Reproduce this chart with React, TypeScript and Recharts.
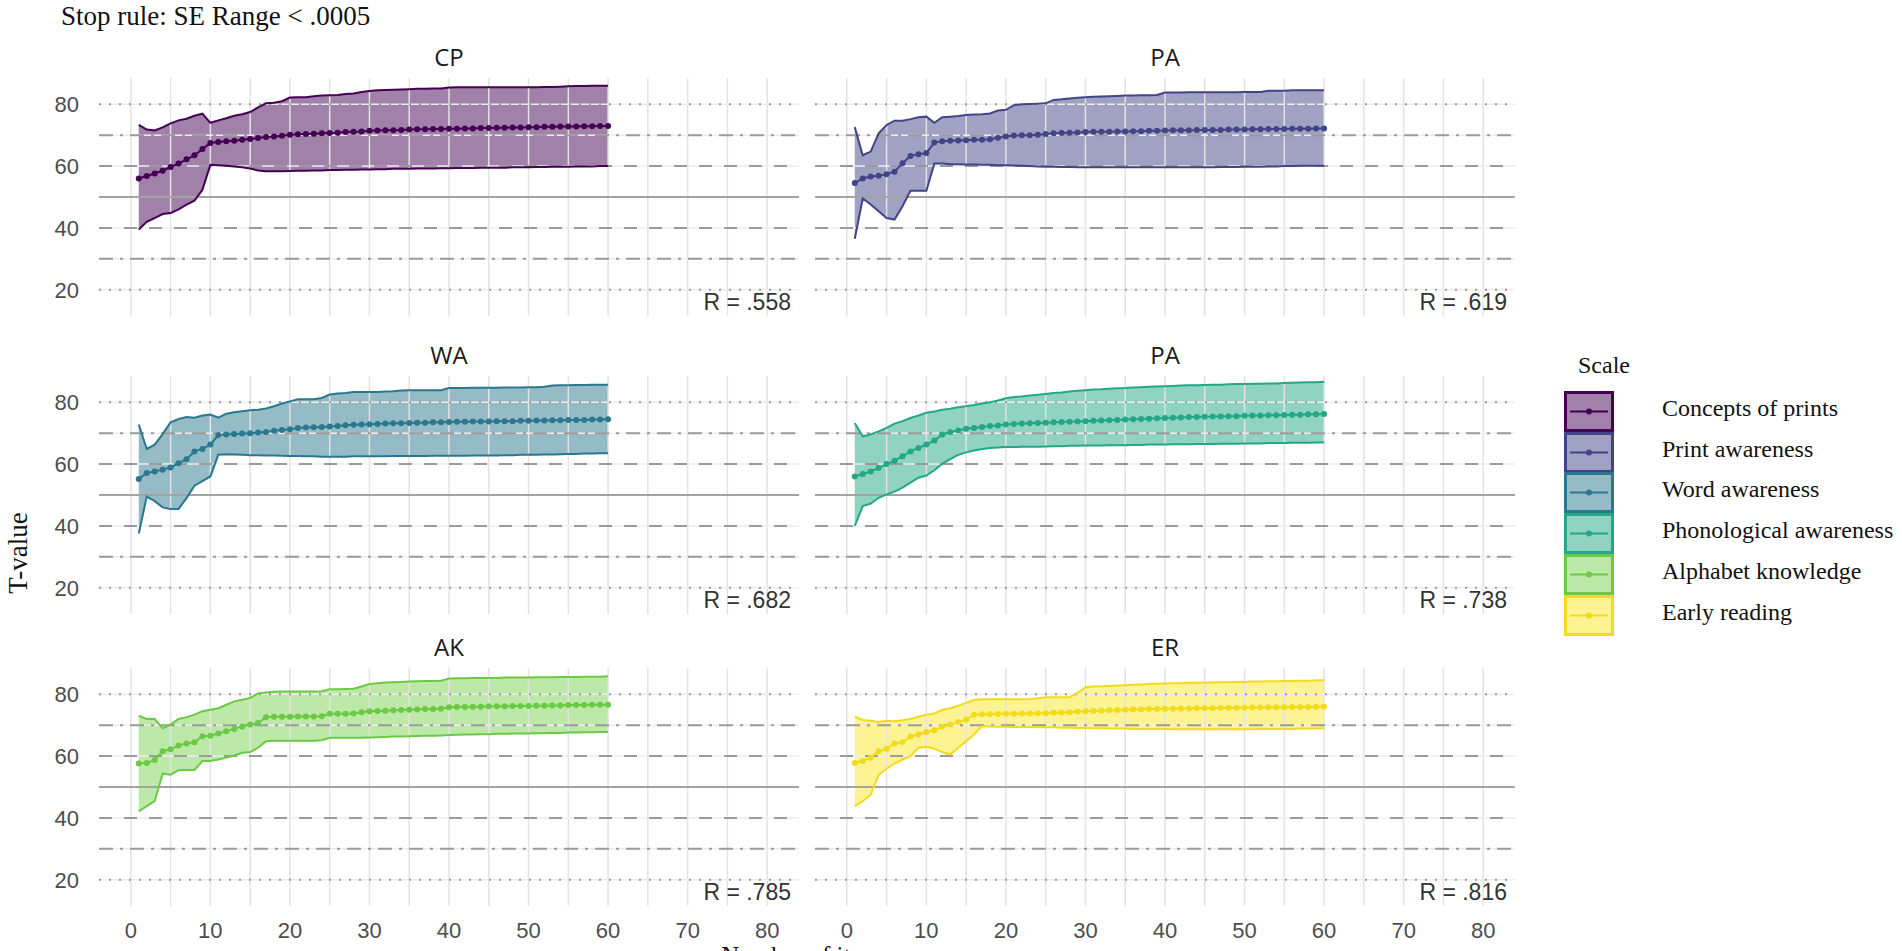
import * as React from 'react';
import {
  ComposedChart,
  Area,
  Line,
  XAxis,
  YAxis,
  ReferenceLine,
} from 'recharts';

// item number (x)
const items = [
  1, 2, 3, 4, 5, 6, 7, 8, 9, 10, 11, 12, 13, 14, 15, 16, 17, 18, 19, 20,
  21, 22, 23, 24, 25, 26, 27, 28, 29, 30, 31, 32, 33, 34, 35, 36, 37, 38, 39, 40,
  41, 42, 43, 44, 45, 46, 47, 48, 49, 50, 51, 52, 53, 54, 55, 56, 57, 58, 59, 60,
];

const xTicks = [0, 10, 20, 30, 40, 50, 60, 70, 80];
const xGrid = [0, 5, 10, 15, 20, 25, 30, 35, 40, 45, 50, 55, 60, 65, 70, 75, 80];
const yTicks = [20, 40, 60, 80];

// Concepts of prints
const cpUpper = [
  73.3, 71.8, 71.5, 72.5, 73.8, 74.8, 75.3, 76.3, 77.0, 74.0,
  74.8, 75.5, 76.3, 76.8, 77.5, 79.0, 80.3, 80.5, 81.0, 82.2,
  82.3, 82.3, 82.6, 82.8, 82.9, 83.0, 83.3, 83.5, 84.0, 84.3,
  84.5, 84.6, 84.7, 84.8, 84.9, 85.0, 85.0, 85.1, 85.1, 85.4,
  85.5, 85.5, 85.5, 85.5, 85.5, 85.5, 85.5, 85.5, 85.5, 85.5,
  85.5, 85.6, 85.6, 85.7, 85.8, 85.9, 85.9, 86.0, 86.0, 86.0,
];
const cpMean = [
  56.0, 56.8, 57.6, 58.5, 59.7, 60.8, 62.2, 63.5, 65.5, 67.5,
  67.8, 68.0, 68.2, 68.5, 68.8, 69.1, 69.4, 69.6, 69.8, 70.1,
  70.3, 70.4, 70.5, 70.6, 70.7, 70.8, 71.0, 71.1, 71.2, 71.4,
  71.5, 71.6, 71.6, 71.7, 71.8, 71.9, 71.9, 72.0, 72.0, 72.1,
  72.1, 72.2, 72.2, 72.3, 72.3, 72.4, 72.4, 72.5, 72.5, 72.6,
  72.6, 72.7, 72.7, 72.8, 72.8, 72.8, 72.9, 72.9, 73.0, 73.0,
];
const cpLower = [
  39.5, 42.0, 43.2, 44.5, 44.8, 46.0, 47.5, 48.8, 52.3, 60.4,
  60.3, 60.1, 59.9, 59.6, 59.2, 58.6, 58.3, 58.3, 58.3, 58.4,
  58.5, 58.5, 58.6, 58.6, 58.7, 58.7, 58.8, 58.8, 58.9, 58.9,
  59.0, 59.0, 59.1, 59.1, 59.1, 59.2, 59.2, 59.2, 59.3, 59.3,
  59.4, 59.4, 59.4, 59.5, 59.5, 59.5, 59.5, 59.6, 59.6, 59.6,
  59.7, 59.7, 59.8, 59.8, 59.8, 59.9, 59.9, 59.9, 60.0, 60.0,
];

// Print awareness
const paUpper = [
  72.6, 63.5, 64.7, 70.6, 73.3, 74.7, 74.7, 75.2, 75.8, 76.0,
  74.0, 75.8, 76.0, 76.2, 76.5, 76.7, 76.8, 77.0, 78.0, 78.2,
  79.7, 80.0, 80.1, 80.2, 80.3, 81.4, 81.6, 81.9, 82.1, 82.3,
  82.4, 82.5, 82.6, 82.7, 82.8, 82.8, 82.9, 82.9, 83.0, 83.8,
  83.8, 83.8, 83.9, 83.9, 83.9, 83.9, 83.9, 83.9, 83.9, 84.0,
  84.0, 84.0, 84.4, 84.4, 84.4, 84.5, 84.5, 84.5, 84.5, 84.5,
];
const paMean = [
  54.5, 56.0, 56.6, 56.9, 57.4, 58.2, 60.9, 63.3, 63.8, 64.2,
  67.6, 68.0, 68.2, 68.3, 68.4, 68.5, 68.5, 68.7, 69.2, 69.6,
  69.9, 70.0, 70.0, 70.1, 70.4, 70.6, 70.7, 70.8, 70.9, 71.0,
  71.1, 71.1, 71.1, 71.2, 71.2, 71.3, 71.3, 71.4, 71.4, 71.5,
  71.6, 71.6, 71.6, 71.7, 71.7, 71.7, 71.7, 71.8, 71.8, 71.8,
  71.9, 71.9, 72.0, 72.0, 72.0, 72.1, 72.1, 72.1, 72.2, 72.2,
];
const paLower = [
  36.5, 49.5, 47.6, 45.4, 43.2, 42.7, 47.0, 52.0, 52.0, 52.0,
  60.8, 60.8, 60.6, 60.6, 60.5, 60.5, 60.4, 60.4, 60.3, 60.3,
  60.2, 60.1, 60.0, 59.9, 59.8, 59.8, 59.7, 59.7, 59.6, 59.6,
  59.6, 59.6, 59.6, 59.6, 59.6, 59.6, 59.6, 59.6, 59.6, 59.6,
  59.6, 59.6, 59.6, 59.6, 59.6, 59.6, 59.7, 59.7, 59.7, 59.8,
  59.8, 59.8, 59.9, 59.9, 60.0, 60.0, 60.1, 60.1, 60.1, 60.1,
];

// Word awareness
const waUpper = [
  72.8, 64.9, 66.3, 69.7, 73.5, 74.6, 75.2, 75.0, 75.7, 76.0,
  75.0, 76.3, 76.8, 77.1, 77.4, 77.6, 78.0, 78.7, 79.6, 80.3,
  81.0, 81.0, 81.0, 81.4, 82.5, 82.8, 83.0, 83.3, 83.3, 83.3,
  83.3, 83.5, 83.6, 83.8, 83.9, 83.9, 83.9, 83.9, 83.9, 84.6,
  84.6, 84.6, 84.7, 84.7, 84.7, 84.7, 84.8, 84.8, 84.8, 84.9,
  84.9, 85.0, 85.4, 85.5, 85.5, 85.6, 85.6, 85.7, 85.7, 85.7,
];
const waMean = [
  55.2, 57.1, 57.6, 58.2, 58.9, 60.3, 61.6, 64.1, 64.9, 66.3,
  69.4, 69.6, 69.7, 69.9, 70.0, 70.2, 70.4, 70.8, 71.0, 71.3,
  71.7, 71.8, 71.9, 72.0, 72.2, 72.3, 72.6, 72.7, 72.8, 72.9,
  73.0, 73.1, 73.2, 73.2, 73.3, 73.4, 73.4, 73.5, 73.5, 73.6,
  73.7, 73.7, 73.8, 73.8, 73.8, 73.9, 73.9, 73.9, 74.0, 74.0,
  74.1, 74.1, 74.2, 74.2, 74.3, 74.3, 74.3, 74.4, 74.4, 74.5,
];
const waLower = [
  37.5, 49.5, 48.0, 46.0, 45.5, 45.5, 49.0, 53.0, 54.5, 56.0,
  63.0, 63.2, 63.1, 63.0, 62.9, 62.9, 62.8, 62.8, 62.7, 62.6,
  62.6, 62.5, 62.5, 62.4, 62.4, 62.4, 62.4, 62.5, 62.5, 62.5,
  62.5, 62.5, 62.6, 62.6, 62.6, 62.6, 62.6, 62.7, 62.7, 62.7,
  62.7, 62.7, 62.8, 62.8, 62.8, 62.8, 62.9, 62.9, 63.0, 63.0,
  63.0, 63.1, 63.1, 63.2, 63.3, 63.3, 63.4, 63.4, 63.5, 63.5,
];

// Phonological awareness
const phUpper = [
  73.3, 69.0, 69.6, 70.6, 71.7, 73.1, 73.9, 74.9, 75.7, 76.6,
  77.0, 77.6, 77.9, 78.4, 78.7, 79.1, 79.6, 80.0, 80.6, 81.3,
  81.7, 81.9, 82.2, 82.4, 82.7, 83.0, 83.2, 83.5, 83.7, 83.9,
  84.1, 84.2, 84.4, 84.5, 84.6, 84.8, 84.9, 85.0, 85.1, 85.2,
  85.3, 85.4, 85.5, 85.5, 85.6, 85.7, 85.7, 85.8, 85.9, 85.9,
  86.0, 86.0, 86.1, 86.1, 86.2, 86.3, 86.4, 86.5, 86.5, 86.6,
];
const phMean = [
  56.0, 56.8, 57.6, 58.7, 60.0, 61.1, 62.5, 64.1, 65.2, 66.3,
  67.6, 69.6, 70.4, 70.9, 71.4, 71.7, 72.0, 72.3, 72.5, 72.8,
  73.0, 73.1, 73.2, 73.3, 73.4, 73.5, 73.6, 73.7, 73.8, 73.9,
  74.0, 74.1, 74.2, 74.3, 74.4, 74.5, 74.6, 74.7, 74.8, 74.9,
  75.0, 75.1, 75.2, 75.2, 75.3, 75.4, 75.4, 75.5, 75.5, 75.6,
  75.7, 75.7, 75.8, 75.8, 75.9, 76.0, 76.0, 76.1, 76.1, 76.2,
];
const phLower = [
  40.0, 46.4, 47.2, 49.1, 50.2, 51.1, 52.4, 54.0, 55.6, 56.3,
  58.0, 60.1, 61.6, 63.0, 63.8, 64.4, 64.9, 65.2, 65.4, 65.5,
  65.5, 65.6, 65.6, 65.6, 65.7, 65.8, 65.8, 65.9, 65.9, 66.0,
  66.0, 66.0, 66.1, 66.1, 66.1, 66.2, 66.2, 66.3, 66.3, 66.3,
  66.4, 66.4, 66.4, 66.5, 66.5, 66.5, 66.6, 66.6, 66.6, 66.7,
  66.7, 66.7, 66.8, 66.8, 66.8, 66.9, 66.9, 66.9, 67.0, 67.0,
];

// Alphabet knowledge
const akUpper = [
  73.0, 72.0, 72.0, 69.0, 70.2, 72.0, 72.6, 73.4, 74.5, 75.0,
  75.5, 76.6, 77.7, 78.2, 78.8, 80.3, 80.6, 80.8, 80.9, 80.9,
  80.9, 80.9, 80.9, 81.0, 81.6, 81.6, 81.7, 81.8, 82.5, 83.3,
  83.6, 83.8, 83.9, 84.0, 84.1, 84.2, 84.3, 84.3, 84.4, 85.1,
  85.2, 85.2, 85.3, 85.3, 85.3, 85.3, 85.4, 85.4, 85.4, 85.4,
  85.5, 85.5, 85.5, 85.6, 85.6, 85.6, 85.7, 85.7, 85.7, 85.8,
];
const akMean = [
  57.6, 57.8, 58.7, 61.6, 62.2, 63.4, 64.1, 64.5, 66.4, 66.6,
  67.3, 68.0, 68.8, 69.6, 70.2, 70.7, 72.6, 72.7, 72.7, 72.7,
  72.8, 72.8, 72.8, 72.9, 73.7, 73.7, 73.7, 73.8, 74.2, 74.5,
  74.6, 74.7, 74.8, 74.9, 75.0, 75.1, 75.2, 75.2, 75.3, 75.8,
  75.9, 75.9, 76.0, 76.0, 76.1, 76.1, 76.1, 76.2, 76.2, 76.2,
  76.3, 76.3, 76.4, 76.4, 76.5, 76.5, 76.5, 76.6, 76.6, 76.6,
];
const akLower = [
  42.1, 43.8, 45.4, 54.3, 54.0, 55.4, 55.5, 55.5, 58.4, 58.4,
  58.9, 59.5, 60.2, 61.1, 61.3, 62.7, 64.8, 65.0, 65.0, 65.0,
  65.0, 65.0, 65.0, 65.1, 65.9, 65.9, 65.9, 65.9, 65.9, 66.0,
  66.1, 66.2, 66.3, 66.3, 66.4, 66.5, 66.6, 66.6, 66.7, 66.8,
  66.9, 67.0, 67.0, 67.1, 67.1, 67.2, 67.2, 67.3, 67.3, 67.3,
  67.4, 67.4, 67.5, 67.5, 67.6, 67.6, 67.7, 67.7, 67.8, 67.8,
];

// Early reading
const erUpper = [
  72.8, 71.7, 71.4, 71.0, 71.4, 71.3, 71.6, 72.0, 72.7, 73.4,
  73.8, 75.0, 75.5, 76.3, 77.2, 78.2, 78.4, 78.4, 78.4, 78.4,
  78.4, 78.4, 78.4, 78.7, 79.0, 79.0, 79.0, 79.0, 80.5, 82.3,
  82.5, 82.6, 82.7, 82.8, 82.9, 83.1, 83.2, 83.3, 83.4, 83.5,
  83.6, 83.6, 83.7, 83.7, 83.8, 83.8, 83.9, 83.9, 84.0, 84.0,
  84.1, 84.1, 84.2, 84.2, 84.3, 84.3, 84.4, 84.4, 84.5, 84.5,
];
const erMean = [
  57.8, 58.4, 59.5, 61.6, 62.4, 64.1, 64.5, 66.3, 67.0, 67.8,
  68.4, 69.5, 70.2, 71.0, 71.8, 73.4, 73.5, 73.6, 73.6, 73.7,
  73.7, 73.8, 73.8, 73.9, 73.9, 74.0, 74.1, 74.2, 74.4, 74.5,
  74.6, 74.7, 74.8, 74.9, 75.0, 75.1, 75.1, 75.2, 75.2, 75.3,
  75.3, 75.4, 75.4, 75.5, 75.5, 75.5, 75.6, 75.6, 75.6, 75.7,
  75.7, 75.7, 75.8, 75.8, 75.8, 75.9, 75.9, 75.9, 76.0, 76.0,
];
const erLower = [
  43.8, 45.4, 47.5, 54.0, 55.9, 57.6, 58.9, 60.0, 62.7, 63.0,
  62.4, 61.3, 60.5, 62.7, 64.8, 67.0, 69.7, 69.6, 69.5, 69.5,
  69.4, 69.4, 69.4, 69.3, 69.3, 69.3, 69.2, 69.2, 69.1, 69.1,
  69.0, 69.0, 68.9, 68.9, 68.9, 68.8, 68.8, 68.8, 68.8, 68.8,
  68.7, 68.7, 68.7, 68.7, 68.7, 68.7, 68.7, 68.7, 68.7, 68.7,
  68.7, 68.8, 68.8, 68.8, 68.8, 68.8, 68.9, 68.9, 68.9, 69.0,
];

const panelTitles = ['CP', 'PA', 'WA', 'PA', 'AK', 'ER'];
const scaleNames = [
  'Concepts of prints',
  'Print awareness',
  'Word awareness',
  'Phonological awareness',
  'Alphabet knowledge',
  'Early reading',
];
const rLabels = ['R = .558', 'R = .619', 'R = .682', 'R = .738', 'R = .785', 'R = .816'];

const colors = ['#440154', '#414487', '#2a788e', '#22a884', '#7ad151', '#fde725'];
const edgeColors = ['#440154', '#414487', '#2a788e', '#22a884', '#6cc943', '#f0dc1c'];

const series = [
  { lower: cpLower, mean: cpMean, upper: cpUpper },
  { lower: paLower, mean: paMean, upper: paUpper },
  { lower: waLower, mean: waMean, upper: waUpper },
  { lower: phLower, mean: phMean, upper: phUpper },
  { lower: akLower, mean: akMean, upper: akUpper },
  { lower: erLower, mean: erMean, upper: erUpper },
];

// layout (pixels)
const PANEL_W = 700;
const PANEL_H = 238;
const colLeft = [99, 815];
const rowTop = [78, 376, 668];
const Y_AXIS_W = 60;
const X_AXIS_H = 50;

const SANS = '"Liberation Sans", Arial, sans-serif';
const SERIF = '"Liberation Serif", "Times New Roman", serif';
const TICK = { fill: '#4d4d4d', fontSize: 22, fontFamily: SANS };

const refStyles = [
  { y: 80, dash: '2 8' },
  { y: 70, dash: '14 7 3 7' },
  { y: 60, dash: '13 12' },
  { y: 40, dash: '13 12' },
  { y: 30, dash: '14 7 3 7' },
  { y: 20, dash: '2 8' },
];
const lightRows = [20, 30, 40, 60, 70, 80];

const Panel = ({ idx }: { idx: number }) => {
  const row = Math.floor(idx / 2);
  const col = idx % 2;
  const isLeft = col === 0;
  const isBottom = row === 2;
  const yW = isLeft ? Y_AXIS_W : 0;
  const xH = isBottom ? X_AXIS_H : 0;
  const s = series[idx];
  const data = items.map((item, i) => ({
    item,
    lower: s.lower[i],
    mean: s.mean[i],
    upper: s.upper[i],
  }));
  const color = colors[idx];
  const edge = edgeColors[idx];

  return (
    <div style={{ position: 'absolute', left: colLeft[col] - yW, top: rowTop[row] }}>
      <ComposedChart
        width={PANEL_W + yW}
        height={PANEL_H + xH}
        data={data}
        margin={{ top: 0, right: 0, bottom: 0, left: 0 }}
      >
        <XAxis
          type="number"
          dataKey="item"
          domain={[-4, 84]}
          ticks={xTicks}
          allowDataOverflow
          hide={!isBottom}
          height={xH}
          axisLine={false}
          tickLine={false}
          tickMargin={10}
          tick={TICK}
        />
        <YAxis
          type="number"
          domain={[11.5, 88.5]}
          ticks={yTicks}
          allowDataOverflow
          hide={!isLeft}
          width={yW}
          axisLine={false}
          tickLine={false}
          tickMargin={14}
          tick={TICK}
        />
        {xGrid.map((x) => (
          <ReferenceLine key={'vx' + x} x={x} stroke="#e3e3e3" strokeWidth={1.5} />
        ))}
        {lightRows.map((y) => (
          <ReferenceLine key={'ly' + y} y={y} stroke="#ededed" strokeWidth={1.5} />
        ))}
        {refStyles.map((r) => (
          <ReferenceLine
            key={'ry' + r.y}
            y={r.y}
            stroke="#9a9a9a"
            strokeWidth={2}
            strokeDasharray={r.dash}
          />
        ))}
        <ReferenceLine y={50} stroke="#a3a3a3" strokeWidth={2.2} />
        <Area
          type="linear"
          dataKey={(d: any) => [d.lower, d.upper]}
          fill={color}
          fillOpacity={0.5}
          stroke="none"
          isAnimationActive={false}
        />
        <Line
          type="linear"
          dataKey="upper"
          stroke={edge}
          strokeWidth={2}
          dot={false}
          isAnimationActive={false}
        />
        <Line
          type="linear"
          dataKey="lower"
          stroke={edge}
          strokeWidth={2}
          dot={false}
          isAnimationActive={false}
        />
        <Line
          type="linear"
          dataKey="mean"
          stroke={edge}
          strokeWidth={2}
          dot={{ r: 3, fill: edge, stroke: edge, strokeWidth: 0 }}
          isAnimationActive={false}
        />
      </ComposedChart>
      <div
        style={{
          position: 'absolute',
          left: yW,
          top: -36,
          width: PANEL_W,
          textAlign: 'center',
          fontFamily: '"Open Sans", "Noto Sans", sans-serif',
          fontSize: 24,
          color: '#1a1a1a',
          lineHeight: '30px',
        }}
      >
        {panelTitles[idx]}
      </div>
      <div
        style={{
          position: 'absolute',
          left: yW,
          top: PANEL_H - 27,
          width: PANEL_W - 8,
          textAlign: 'right',
          fontFamily: SANS,
          fontSize: 23,
          color: '#333',
          lineHeight: '26px',
        }}
      >
        {rLabels[idx]}
      </div>
    </div>
  );
};

const LegendKey = ({ idx }: { idx: number }) => (
  <svg width={52} height={42} style={{ display: 'block' }}>
    <rect
      x={1.5}
      y={1.5}
      width={47}
      height={38}
      fill={colors[idx]}
      fillOpacity={0.5}
      stroke={edgeColors[idx]}
      strokeWidth={3}
    />
    <line x1={6} y1={20.5} x2={44} y2={20.5} stroke={edgeColors[idx]} strokeWidth={2} />
    <circle cx={25} cy={20.5} r={3} fill={edgeColors[idx]} />
  </svg>
);

export default function App() {
  return (
    <div
      style={{
        position: 'absolute',
        left: 0,
        top: 0,
        width: 1902,
        height: 951,
        overflow: 'hidden',
        background: '#fff',
      }}
    >
      <div
        style={{
          position: 'absolute',
          left: 61,
          top: 1,
          fontFamily: SERIF,
          fontSize: 27,
          color: '#111',
          whiteSpace: 'nowrap',
        }}
      >
        Stop rule: SE Range &lt; .0005
      </div>
      {panelTitles.map((_, i) => (
        <Panel key={i} idx={i} />
      ))}
      <div
        style={{
          position: 'absolute',
          left: 18,
          top: 553,
          transform: 'translate(-50%, -50%) rotate(-90deg)',
          fontFamily: SERIF,
          fontSize: 27,
          color: '#111',
          whiteSpace: 'nowrap',
        }}
      >
        T-value
      </div>
      <div
        style={{
          position: 'absolute',
          left: 806,
          top: 942,
          transform: 'translateX(-50%)',
          fontFamily: SERIF,
          fontSize: 25,
          color: '#111',
          whiteSpace: 'nowrap',
        }}
      >
        Number of items
      </div>
      <div
        style={{
          position: 'absolute',
          left: 1578,
          top: 352,
          fontFamily: SERIF,
          fontSize: 24,
          color: '#111',
        }}
      >
        Scale
      </div>
      {scaleNames.map((name, i) => (
        <React.Fragment key={name}>
          <div style={{ position: 'absolute', left: 1564, top: 391 + i * 40.7 }}>
            <LegendKey idx={i} />
          </div>
          <div
            style={{
              position: 'absolute',
              left: 1662,
              top: 391 + i * 40.7 + 2,
              fontFamily: SERIF,
              fontSize: 24,
              color: '#111',
              whiteSpace: 'nowrap',
              lineHeight: '30px',
            }}
          >
            {name}
          </div>
        </React.Fragment>
      ))}
    </div>
  );
}
